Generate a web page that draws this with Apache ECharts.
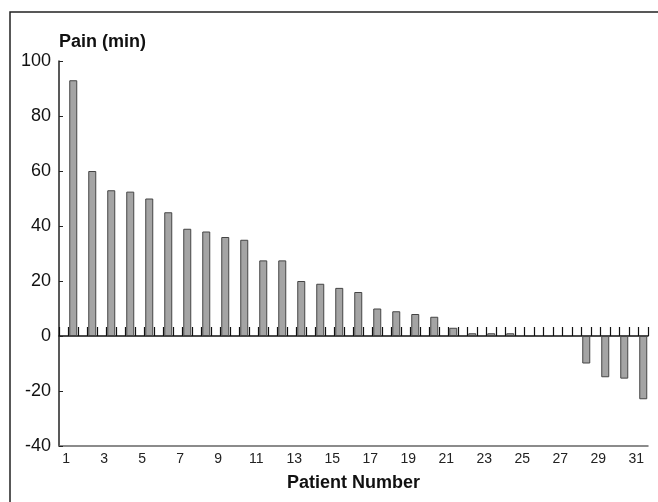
<!DOCTYPE html>
<html>
<head>
<meta charset="utf-8">
<script src="https://cdn.jsdelivr.net/npm/echarts@6/dist/echarts.min.js"></script>
<style>
  html, body { margin: 0; padding: 0; background: #fff; }
  #chart { width: 658px; height: 502px; }
</style>
</head>
<body>
<div id="chart"></div>
<script>
// patient number -> pain difference (min)
const patients = [1, 2, 3, 4, 5, 6, 7, 8, 9, 10, 11, 12, 13, 14, 15, 16,
  17, 18, 19, 20, 21, 22, 23, 24, 25, 26, 27, 28, 29, 30, 31];
const pain = [93, 60, 53, 52.5, 50, 45, 39, 38, 36, 35, 27.5, 27.5, 20, 19, 17.5, 16,
  10, 9, 8, 7, 3, 1, 1, 1, 0, 0, 0, -10, -15, -15.5, -23];
const yTicks = [-40, -20, 0, 20, 40, 60, 80, 100];

const font = "'Liberation Sans', Arial, sans-serif";

const myChart = echarts.init(document.getElementById('chart'));

const option = {
  animation: false,
  graphic: [{
    type: 'rect',
    shape: { x: 10, y: 12, width: 700, height: 600 },
    style: { fill: 'none', stroke: '#222', lineWidth: 1.5 }
  }],
  grid: { left: 59, right: 10, top: 61, bottom: 56 },
  xAxis: [
    {
      // labelled axis at the bottom
      type: 'value',
      position: 'bottom',
      min: 0.25,
      max: 31.25,
      interval: 0.25,
      name: 'Patient Number',
      nameLocation: 'middle',
      nameGap: 28,
      nameTextStyle: { fontFamily: font, fontSize: 18, fontWeight: 'bold', color: '#111' },
      axisLine: { onZero: false, lineStyle: { color: '#666', width: 1.5 } },
      axisTick: { show: false },
      splitLine: { show: false },
      axisLabel: {
        fontFamily: font, fontSize: 14, color: '#222', margin: 6,
        padding: [0, 14, 0, 0],
        formatter: v => (Number.isInteger(v) && v % 2 === 1) ? String(v) : ''
      }
    },
    {
      // zero line with the little upward ticks, half-bar spacing
      type: 'value',
      position: 'top',
      min: 0,
      max: 62,
      interval: 1,
      axisLine: { onZero: true, lineStyle: { color: '#111', width: 1.5 } },
      axisTick: { show: true, inside: false, length: 9, lineStyle: { color: '#111', width: 1.2 } },
      axisLabel: { show: false },
      splitLine: { show: false }
    }
  ],
  yAxis: {
    type: 'value',
    min: yTicks[0],
    max: yTicks[yTicks.length - 1],
    interval: 20,
    name: 'Pain (min)',
    nameLocation: 'end',
    nameGap: 10,
    nameTextStyle: { fontFamily: font, fontSize: 18, fontWeight: 'bold', color: '#111', align: 'left' },
    axisLine: { show: true, lineStyle: { color: '#222', width: 1.5 } },
    axisTick: { show: true, inside: true, length: 4, lineStyle: { color: '#222' } },
    splitLine: { show: false },
    axisLabel: { fontFamily: font, fontSize: 18, color: '#111', margin: 8 }
  },
  series: [{
    type: 'bar',
    xAxisIndex: 0,
    barWidth: 8,
    data: patients.map((p, i) => [p, pain[i]]),
    itemStyle: { color: '#a4a4a4', borderColor: '#444', borderWidth: 1 }
  }]
};

myChart.setOption(option);
</script>
</body>
</html>
